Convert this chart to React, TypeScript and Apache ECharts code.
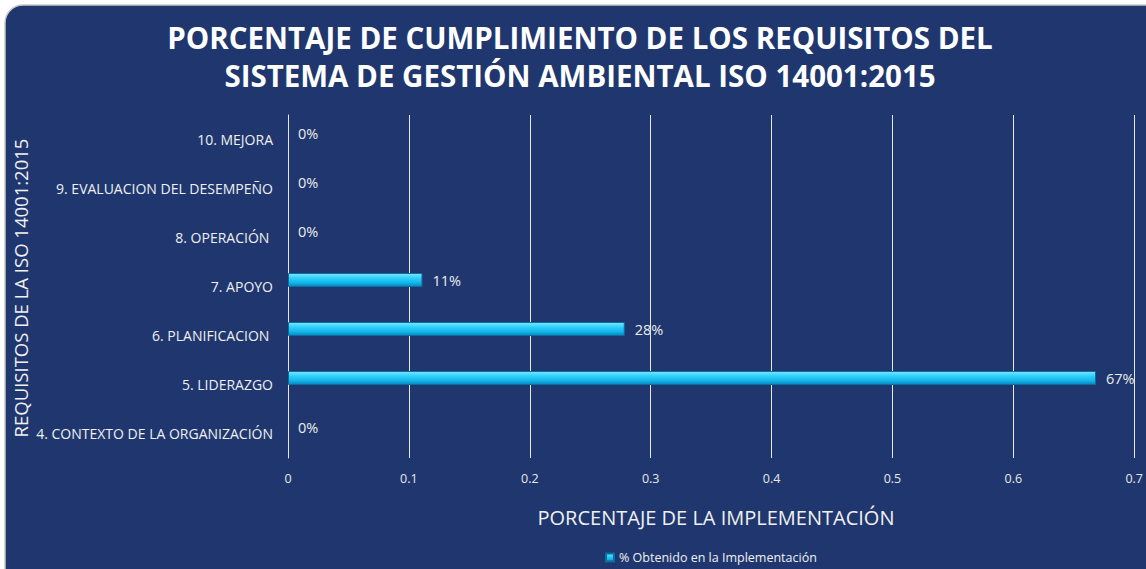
import React, { useEffect, useRef } from "react";
import * as echarts from "echarts";

const categories = [
  "4. CONTEXTO DE LA ORGANIZACIÓN",
  "5. LIDERAZGO",
  "6. PLANIFICACION ",
  "7. APOYO",
  "8. OPERACIÓN ",
  "9. EVALUACION DEL DESEMPEÑO",
  "10. MEJORA",
];
const values = [0, 0.667, 0.278, 0.111, 0, 0, 0];
const seriesName = "% Obtenido en la Implementación";
const titleLines = [
  "PORCENTAJE DE CUMPLIMIENTO DE LOS REQUISITOS DEL",
  "SISTEMA DE GESTIÓN AMBIENTAL ISO 14001:2015",
];
const xTitle = "PORCENTAJE DE LA IMPLEMENTACIÓN";
const yTitle = "REQUISITOS DE LA ISO 14001:2015";

const FONT = "'Open Sans', 'Noto Sans', sans-serif";

export default function App() {
  const ref = useRef<HTMLDivElement>(null);
  useEffect(() => {
    if (!ref.current) return;
    const chart = echarts.init(ref.current, null, { renderer: "svg" });
    const barColor = new echarts.graphic.LinearGradient(0, 0, 0, 1, [
      { offset: 0, color: "#7fe6ff" },
      { offset: 0.35, color: "#2fd0fa" },
      { offset: 0.7, color: "#12b6ea" },
      { offset: 1, color: "#0a86c0" },
    ]);
    chart.setOption({
      animation: false,
      textStyle: { fontFamily: FONT },
      graphic: [
        {
          type: "rect",
          z: -10,
          silent: true,
          shape: { x: 5, y: 5, width: 1170, height: 590, r: 18 },
          style: { fill: "#1f376e", stroke: "#c8c8c8", lineWidth: 1.5 },
        },
        {
          type: "text",
          x: 580,
          y: 37,
          style: {
            text: titleLines[0],
            fill: "#ffffff",
            font: `bold 29.5px ${FONT}`,
            align: "center",
            verticalAlign: "middle",
          },
        },
        {
          type: "text",
          x: 580,
          y: 75,
          style: {
            text: titleLines[1],
            fill: "#ffffff",
            font: `bold 29.5px ${FONT}`,
            align: "center",
            verticalAlign: "middle",
          },
        },
        {
          type: "text",
          x: 716,
          y: 517,
          style: {
            text: xTitle,
            fill: "#f0f0f0",
            font: `20px ${FONT}`,
            align: "center",
            verticalAlign: "middle",
          },
        },
        {
          type: "text",
          x: 20,
          y: 288,
          rotation: Math.PI / 2,
          style: {
            text: yTitle,
            fill: "#f0f0f0",
            font: `18.5px ${FONT}`,
            align: "center",
            verticalAlign: "middle",
          },
        },
      ],
      legend: {
        data: [seriesName],
        left: 600,
        top: 546,
        icon: "rect",
        itemWidth: 8,
        itemHeight: 8,
        itemGap: 6,
        textStyle: { color: "#f0f0f0", fontSize: 12.5, fontFamily: FONT },
      },
      grid: [
        { left: 288, right: 10, top: 115, height: 343, containLabel: false },
        { left: 288, right: 10, top: 108.5, height: 343, containLabel: false },
      ],
      xAxis: [
        {
          type: "value",
          gridIndex: 0,
          min: 0,
          max: 0.7,
          interval: 0.1,
          axisLine: { show: false },
          axisTick: { show: false },
          splitLine: { show: true, lineStyle: { color: "#e6e6e6", width: 1 } },
          axisLabel: {
            color: "#e8e8e8",
            fontSize: 12.5,
            margin: 14,
            fontFamily: FONT,
            formatter: (v: number) => String(Math.round(v * 10) / 10),
          },
        },
        {
          type: "value",
          gridIndex: 1,
          min: 0,
          max: 0.7,
          show: false,
          splitLine: { show: false },
        },
      ],
      yAxis: [
        {
          type: "category",
          gridIndex: 0,
          data: categories,
          axisLine: { show: true, lineStyle: { color: "#e6e6e6", width: 1 } },
          axisTick: { show: false },
          splitLine: { show: false },
          axisLabel: {
            color: "#f0f0f0",
            fontSize: 14,
            margin: 15,
            fontFamily: FONT,
          },
        },
        {
          type: "category",
          gridIndex: 1,
          data: categories,
          show: false,
        },
      ],
      series: [
        {
          type: "bar",
          name: seriesName,
          xAxisIndex: 1,
          yAxisIndex: 1,
          data: values.map((v) =>
            v === 0
              ? { value: v, itemStyle: { borderWidth: 0, color: "rgba(0,0,0,0)" } }
              : v
          ),
          barWidth: 14,
          itemStyle: {
            color: barColor,
            borderColor: "#0b6e9e",
            borderWidth: 1,
          },
          label: {
            show: true,
            position: "right",
            distance: 10,
            color: "#ececec",
            fontSize: 14.5,
            fontFamily: FONT,
            formatter: (p: any) => Math.round(p.value * 100) + "%",
          },
        },
      ],
    });
    return () => chart.dispose();
  }, []);
  return (
    <div
      ref={ref}
      style={{ position: "fixed", left: 0, top: 0, width: 1146, height: 569, background: "#ffffff" }}
    />
  );
}
